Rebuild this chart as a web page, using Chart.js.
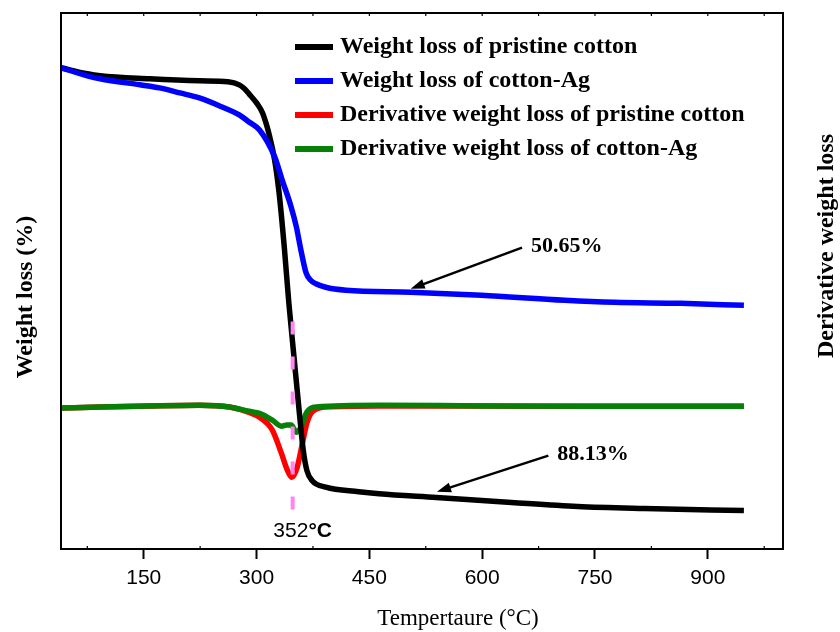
<!DOCTYPE html>
<html>
<head>
<meta charset="utf-8">
<script src="https://cdn.jsdelivr.net/npm/chart.js@4.4.1/dist/chart.umd.min.js"></script>
<style>
  body { margin: 0; background: #fff; }
  canvas { display: block; }
</style>
</head>
<body>
<canvas id="tgaChart" width="840" height="632"></canvas>
<script>
// Weight loss of pristine cotton (TGA)
const blackTemp = [40, 75, 92, 158, 224, 262, 277, 284, 290, 301, 308, 317, 324, 330, 337, 343, 350, 357, 362, 367, 374, 392, 436, 463, 539, 639, 727, 816, 948];
const blackWeight = [100, 98.8, 98.4, 97.8, 97.4, 97.2, 96.6, 95.8, 94.8, 92.8, 91.0, 86.6, 81.7, 75.1, 64.1, 53.1, 42.1, 31.2, 24.0, 19.8, 17.8, 16.5, 15.6, 15.2, 14.46, 13.46, 12.66, 12.26, 11.86];

// Weight loss of cotton-Ag (TGA)
const blueTemp = [40, 75, 92, 145, 171, 198, 224, 251, 277, 290, 304, 324, 334, 346, 353, 359, 366, 372, 379, 392, 419, 505, 599, 710, 776, 864, 948];
const blueWeight = [100, 98.4, 97.8, 96.6, 96.0, 95.0, 94.0, 92.4, 90.6, 89.2, 87.6, 82.3, 77.7, 72.3, 68.3, 63.7, 59.1, 57.7, 57.0, 56.3, 55.7, 55.3, 54.7, 53.7, 53.3, 53.1, 52.7];

// Derivative weight loss (DTG)
const redTemp = [40, 92, 158, 224, 264, 290, 304, 321, 333, 341, 347, 354, 361, 367, 374, 392, 463, 600, 750, 948];
const redDeriv = [-0.03, 0, 0.03, 0.05, 0, -0.15, -0.29, -0.65, -1.30, -1.78, -1.98, -1.70, -1.02, -0.45, -0.14, 0, 0.03, 0.03, 0.02, 0.02];

const greenTemp = [40, 92, 158, 224, 264, 290, 304, 321, 333, 340, 346, 353, 359, 367, 380, 463, 600, 750, 948];
const greenDeriv = [-0.03, 0, 0.03, 0.05, 0, -0.12, -0.18, -0.37, -0.54, -0.51, -0.51, -0.71, -0.57, -0.14, 0, 0.05, 0.03, 0.02, 0.02];

// Peak marker (dashed pink line)
const markerTemp = [348, 348];
const markerWeight = [49.5, 11.5];

// Axis ticks
const xTicks = [150, 300, 450, 600, 750, 900];
const xMinorTicks = [75, 225, 375, 525, 675, 825, 975];

const legendLabels = [
  'Weight loss of pristine cotton',
  'Weight loss of cotton-Ag',
  'Derivative weight loss of pristine cotton',
  'Derivative weight loss of cotton-Ag'
];
const seriesColors = ['#000000', '#0000ff', '#ff0000', '#078007'];

const serifBold = 'bold 24px "Liberation Serif", "DejaVu Serif", serif';
const sansFont = '"Liberation Sans", Arial, sans-serif';

const toPoints = (xs, ys) => xs.map((x, i) => ({ x, y: ys[i] }));

const lineDataset = (label, points, color, axis, order) => ({
  label,
  data: points,
  borderColor: color,
  backgroundColor: color,
  borderWidth: 5.5,
  pointRadius: 0,
  cubicInterpolationMode: 'monotone',
  fill: false,
  yAxisID: axis,
  order
});

// Annotation arrows, in data coordinates of the weight axis
const arrowNotes = [
  { text: '50.65%', from: [653, 64.2], to: [505, 56.0] },
  { text: '88.13%', from: [688, 22.8], to: [540, 15.6] }
];

// Frame, minor ticks, titles, legend and annotations
const decorPlugin = {
  id: 'decor',
  afterDraw(chart) {
    const { ctx, chartArea: a, scales } = chart;
    const xs = scales.x, ys = scales.y;
    ctx.save();

    // frame
    ctx.strokeStyle = '#000';
    ctx.lineWidth = 2;
    ctx.strokeRect(a.left, a.top, a.right - a.left, a.bottom - a.top);

    // minor ticks on bottom and small ticks on top
    ctx.lineWidth = 1.2;
    xMinorTicks.forEach(v => {
      const px = xs.getPixelForValue(v);
      if (px <= a.left || px >= a.right) return;
      ctx.beginPath();
      ctx.moveTo(px, a.bottom);
      ctx.lineTo(px, a.bottom - 3);
      ctx.stroke();
    });
    xMinorTicks.concat(xTicks).forEach(v => {
      const px = xs.getPixelForValue(v);
      if (px <= a.left || px >= a.right) return;
      ctx.beginPath();
      ctx.moveTo(px, a.top);
      ctx.lineTo(px, a.top + 3);
      ctx.stroke();
    });

    // axis titles
    ctx.fillStyle = '#000';
    ctx.textAlign = 'center';
    ctx.textBaseline = 'middle';
    ctx.font = '23px "Liberation Serif", "DejaVu Serif", serif';
    ctx.fillText('Tempertaure (\u00b0C)', 458, 619);

    ctx.font = serifBold;
    ctx.save();
    ctx.translate(26, 297);
    ctx.rotate(-Math.PI / 2);
    ctx.fillText('Weight loss (%)', 0, 0);
    ctx.restore();
    ctx.save();
    ctx.translate(827, 246);
    ctx.rotate(-Math.PI / 2);
    ctx.fillText('Derivative weight loss', 0, 0);
    ctx.restore();

    // legend
    ctx.textAlign = 'left';
    legendLabels.forEach((label, i) => {
      const y = 47 + i * 34;
      ctx.strokeStyle = seriesColors[i];
      ctx.lineWidth = 6;
      ctx.beginPath();
      ctx.moveTo(295, y);
      ctx.lineTo(333, y);
      ctx.stroke();
      ctx.fillStyle = '#000';
      ctx.fillText(label, 340, y);
    });

    // arrows with percentage notes
    arrowNotes.forEach(n => {
      const x1 = xs.getPixelForValue(n.from[0]), y1 = ys.getPixelForValue(n.from[1]);
      const x2 = xs.getPixelForValue(n.to[0]), y2 = ys.getPixelForValue(n.to[1]);
      const ang = Math.atan2(y2 - y1, x2 - x1);
      ctx.strokeStyle = '#000';
      ctx.fillStyle = '#000';
      ctx.lineWidth = 2.5;
      ctx.beginPath();
      ctx.moveTo(x1, y1);
      ctx.lineTo(x2 - 10 * Math.cos(ang), y2 - 10 * Math.sin(ang));
      ctx.stroke();
      ctx.beginPath();
      ctx.moveTo(x2, y2);
      ctx.lineTo(x2 - 14 * Math.cos(ang) + 5 * Math.sin(ang), y2 - 14 * Math.sin(ang) - 5 * Math.cos(ang));
      ctx.lineTo(x2 - 14 * Math.cos(ang) - 5 * Math.sin(ang), y2 - 14 * Math.sin(ang) + 5 * Math.cos(ang));
      ctx.closePath();
      ctx.fill();
      ctx.font = 'bold 22px "Liberation Serif", "DejaVu Serif", serif';
      ctx.textBaseline = 'middle';
      ctx.fillText(n.text, x1 + 9, y1 - 1);
    });

    // peak temperature label
    const peakX = xs.getPixelForValue(markerTemp[0]) + 10;
    ctx.textBaseline = 'middle';
    ctx.font = '21px ' + sansFont;
    const numW = ctx.measureText('352').width;
    ctx.font = 'bold 21px ' + sansFont;
    const unitW = ctx.measureText('\u00b0C').width;
    const startX = peakX - (numW + unitW) / 2;
    ctx.font = '21px ' + sansFont;
    ctx.fillText('352', startX, 531);
    ctx.font = 'bold 21px ' + sansFont;
    ctx.fillText('\u00b0C', startX + numW, 531);

    ctx.restore();
  }
};

const ctx = document.getElementById('tgaChart').getContext('2d');
new Chart(ctx, {
  type: 'line',
  data: {
    datasets: [
      {
        label: 'marker',
        data: toPoints(markerTemp, markerWeight),
        borderColor: '#ff85f2',
        borderWidth: 4,
        borderDash: [13, 22],
        pointRadius: 0,
        yAxisID: 'y',
        order: 0
      },
      lineDataset(legendLabels[1], toPoints(blueTemp, blueWeight), seriesColors[1], 'y', 1),
      lineDataset(legendLabels[0], toPoints(blackTemp, blackWeight), seriesColors[0], 'y', 2),
      lineDataset(legendLabels[3], toPoints(greenTemp, greenDeriv), seriesColors[3], 'y2', 3),
      lineDataset(legendLabels[2], toPoints(redTemp, redDeriv), seriesColors[2], 'y2', 4)
    ]
  },
  options: {
    responsive: false,
    animation: false,
    layout: { padding: { left: 61, right: 57, top: 13, bottom: 0 } },
    plugins: {
      legend: { display: false },
      tooltip: { enabled: false }
    },
    scales: {
      x: {
        type: 'linear',
        min: 40,
        max: 1000,
        afterBuildTicks: (scale) => { scale.ticks = xTicks.map(v => ({ value: v })); },
        afterFit: (scale) => { scale.height = 83; },
        grid: {
          drawOnChartArea: false,
          drawTicks: true,
          tickLength: 10,
          tickWidth: 2,
          tickColor: '#000'
        },
        border: { color: '#000', width: 2 },
        ticks: {
          color: '#000',
          padding: 7,
          maxRotation: 0,
          font: { family: sansFont, size: 21 }
        }
      },
      y: {
        display: false,
        min: 4.2,
        max: 110.9
      },
      y2: {
        display: false,
        min: -4,
        max: 11.1
      }
    }
  },
  plugins: [decorPlugin]
});
</script>
</body>
</html>
